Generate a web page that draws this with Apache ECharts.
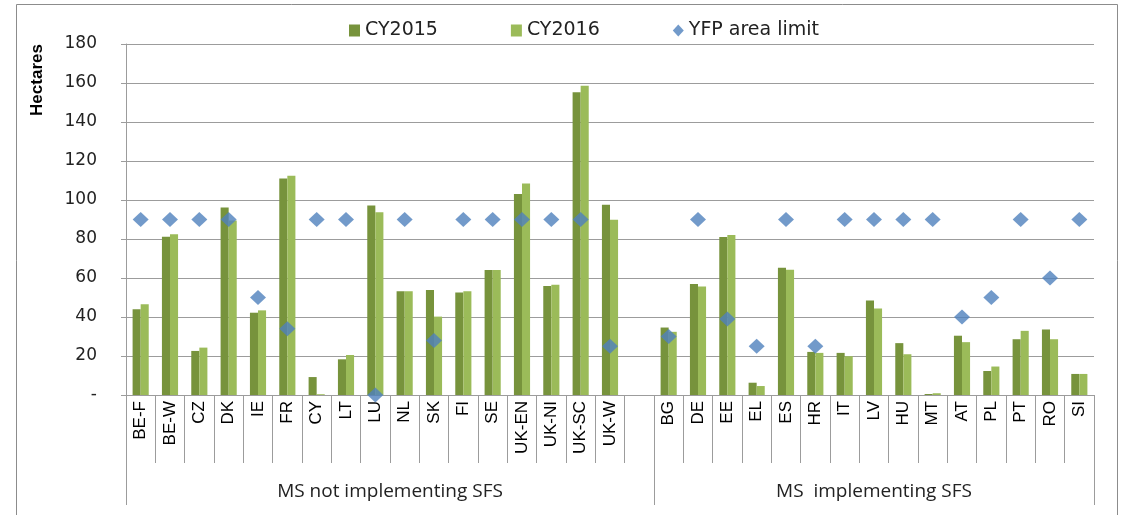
<!DOCTYPE html>
<html>
<head>
<meta charset="utf-8">
<script src="https://cdn.jsdelivr.net/npm/echarts@6/dist/echarts.min.js"></script>
<style>
html,body{margin:0;padding:0;background:#fff;}
#chart{width:1124px;height:515px;}
</style>
</head>
<body>
<div id="chart"></div>
<script>
// ---- data ----
// the '' entry is the empty gap slot between the two groups
var categories = ['BE-F','BE-W','CZ','DK','IE','FR','CY','LT','LU','NL','SK','FI','SE','UK-EN','UK-NI','UK-SC','UK-W','',
  'BG','DE','EE','EL','ES','HR','IT','LV','HU','MT','AT','PL','PT','RO','SI'];
var cy2015 = [44,81.2,22.6,96.2,42.2,111,9.2,18.3,97.2,53.2,53.8,52.6,64.1,103.1,55.9,155.2,97.6,null,
  34.6,56.9,81,6.3,65.2,22.1,21.6,48.4,26.6,0.5,30.4,12.3,28.6,33.6,10.8];
var cy2016 = [46.5,82.4,24.3,89.5,43.4,112.5,0.4,20.5,93.7,53.2,40.2,53.2,64.1,108.5,56.6,158.6,89.9,null,
  32.4,55.6,82,4.6,64.2,21.6,19.9,44.4,20.9,0.9,27.1,14.6,32.9,28.6,10.8];
var yfpLimit = [90,90,90,90,50,34,90,90,0,90,28,90,90,90,90,90,25,null,
  30,90,39,25,90,25,90,90,90,90,40,50,90,60,90];
var groupNames = ['MS not implementing SFS', 'MS  implementing SFS'];
var groupSizes = [18, 15]; // category slots per group (first includes the gap slot)
var seriesNames = ['CY2015', 'CY2016', 'YFP area limit'];
var yTicks = {min: 0, max: 180, interval: 20};
var yAxisTitle = 'Hectares';

// ---- derived group boundaries / centers ----
var bounds = [0], centers = [];
var acc = 0;
groupSizes.forEach(function (n) { centers.push(acc + n / 2); acc += n; bounds.push(acc); });
var total = acc;

var gray = '#9C9C9C';
var chart = echarts.init(document.getElementById('chart'), null, {renderer: 'canvas'});
chart.setOption({
  animation: false,
  backgroundColor: '#fff',
  grid: {left: 126, right: 30, top: 44, bottom: 120, containLabel: false},
  legend: {
    left: 344, top: 16, itemWidth: 11, itemHeight: 12, itemGap: 73,
    textStyle: {fontFamily: 'DejaVu Sans', fontSize: 19, color: '#222'},
    data: [
      {name: seriesNames[0], icon: 'rect'},
      {name: seriesNames[1], icon: 'rect'},
      {name: seriesNames[2], icon: 'diamond'}
    ]
  },
  graphic: [
    {type: 'rect', shape: {x: 16.5, y: 4.5, width: 1101, height: 520}, style: {fill: 'none', stroke: '#8c8c8c', lineWidth: 1}, z: -1},
    {type: 'text', x: 37, y: 80, rotation: Math.PI / 2,
      style: {text: yAxisTitle, font: 'bold 17px "Liberation Sans"', fill: '#000', align: 'center', verticalAlign: 'middle'}}
  ],
  xAxis: [
    {
      type: 'category', data: categories, boundaryGap: true,
      axisLine: {show: true, lineStyle: {color: gray}},
      axisTick: {show: true, interval: 0, length: 68, lineStyle: {color: gray}},
      axisLabel: {interval: 0, rotate: 90, margin: 6, fontFamily: 'Liberation Sans', fontSize: 17, color: '#000'},
      splitLine: {show: false}
    },
    {
      type: 'value', min: 0, max: total, position: 'bottom',
      axisLine: {show: false},
      axisTick: {show: true, customValues: bounds, length: 110, lineStyle: {color: gray}},
      axisLabel: {show: true, customValues: centers, margin: 87, fontFamily: 'Open Sans', fontSize: 19, color: '#222',
        formatter: function (v) { var i = centers.indexOf(v); return i >= 0 ? groupNames[i] : ''; }},
      splitLine: {show: false}
    }
  ],
  yAxis: {
    type: 'value', min: yTicks.min, max: yTicks.max, interval: yTicks.interval,
    axisLine: {show: true, lineStyle: {color: gray}},
    axisTick: {show: true, length: 5, lineStyle: {color: gray}},
    axisLabel: {margin: 29, fontFamily: 'DejaVu Sans', fontSize: 17, color: '#222',
      formatter: function (v) { return v === 0 ? '-' : String(v); }},
    splitLine: {show: true, lineStyle: {color: gray, width: 1}}
  },
  series: [
    {name: seriesNames[0], type: 'bar', data: cy2015, xAxisIndex: 0, barGap: '0%', barCategoryGap: '45%',
      itemStyle: {color: '#77933C'}},
    {name: seriesNames[1], type: 'bar', data: cy2016, xAxisIndex: 0, barGap: '0%', barCategoryGap: '45%',
      itemStyle: {color: '#9BBB59'}},
    {name: seriesNames[2], type: 'scatter', data: yfpLimit, xAxisIndex: 0, symbol: 'diamond', symbolSize: [16, 15],
      itemStyle: {color: '#4F81BD'}, z: 5}
  ]
});
</script>
</body>
</html>
